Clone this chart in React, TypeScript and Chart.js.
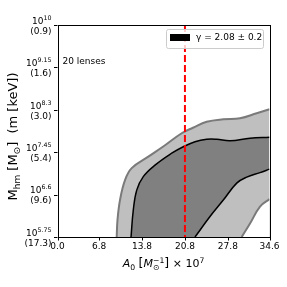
import React, { useEffect, useRef } from "react";
import { Chart, registerables } from "chart.js";

Chart.register(...registerables);

// ---- data ----
const X_MIN = 0;
const X_MAX = 34.6;
const Y_MIN = 5.75; // log10(M_hm)
const Y_MAX = 10;

const X_TICKS = [0, 6.8, 13.8, 20.8, 27.8, 34.6];
const X_TICK_LABELS = ["0.0", "6.8", "13.8", "20.8", "27.8", "34.6"];
const Y_TICKS = [5.75, 6.6, 7.45, 8.3, 9.15, 10];
const Y_EXP_LABELS = ["5.75", "6.6", "7.45", "8.3", "9.15", "10"];
const Y_MASS_LABELS = ["(17.3)", "(9.6)", "(5.4)", "(3.0)", "(1.6)", "(0.9)"];

const GAMMA_LABEL = "γ = 2.08 ± 0.2";
const LENS_LABEL = "20 lenses";
const TRUE_A0 = 20.8;

// 95% contour: upper/left boundary and lower/right boundary
const outerUpperX = [9.66, 9.79, 10.2, 11.02, 12.11, 14.82, 17.55, 20.27, 22.11, 24.35, 27.06, 29.79, 32.51, 34.6];
const outerUpperY = [5.75, 6.09, 6.49, 6.89, 7.13, 7.36, 7.59, 7.83, 7.94, 8.06, 8.11, 8.13, 8.23, 8.31];
const outerLowerX = [30.06, 31.42, 33.05, 34.6];
const outerLowerY = [5.75, 6.02, 6.36, 6.51];
// 68% contour
const innerUpperX = [12.0, 12.37, 12.93, 14.0, 15.91, 18.64, 20.37, 22.44, 24.35, 25.98, 28.15, 31.42, 34.6];
const innerUpperY = [5.75, 6.29, 6.69, 6.96, 7.19, 7.43, 7.55, 7.66, 7.71, 7.71, 7.68, 7.73, 7.75];
const innerLowerX = [22.44, 24.89, 27.06, 29.25, 30.88, 33.05, 34.6];
const innerLowerY = [5.75, 6.16, 6.49, 6.83, 6.95, 7.04, 7.11];

const FONT = '"DejaVu Sans"';

type Seg = { t?: string; size: number; italic?: boolean; dy?: number; sup?: string; sub?: string };

function fontOf(size: number, italic?: boolean) {
  return `${italic ? "italic " : ""}${size}px ${FONT}`;
}

function segWidth(ctx: CanvasRenderingContext2D, s: Seg) {
  ctx.font = fontOf(s.size, s.italic);
  if (s.t !== undefined) return ctx.measureText(s.t).width;
  const a = s.sup ? ctx.measureText(s.sup).width : 0;
  const b = s.sub ? ctx.measureText(s.sub).width : 0;
  return Math.max(a, b);
}

function drawRich(ctx: CanvasRenderingContext2D, segs: Seg[], x: number, y: number, align: "center" | "right" | "left") {
  const total = segs.reduce((w, s) => w + segWidth(ctx, s), 0);
  let cx = align === "center" ? x - total / 2 : align === "right" ? x - total : x;
  ctx.textAlign = "left";
  ctx.textBaseline = "alphabetic";
  for (const s of segs) {
    const w = segWidth(ctx, s);
    ctx.font = fontOf(s.size, s.italic);
    if (s.t !== undefined) {
      ctx.fillText(s.t, cx, y + (s.dy || 0));
    } else {
      if (s.sup) ctx.fillText(s.sup, cx, y - 4.5);
      if (s.sub) ctx.fillText(s.sub, cx, y + 3);
    }
    cx += w;
  }
}

const pts = (xs: number[], ys: number[]) => xs.map((x, i) => ({ x, y: ys[i] }));

const decorPlugin = {
  id: "decor",
  afterDatasetsDraw(chart: any) {
    const ctx: CanvasRenderingContext2D = chart.ctx;
    const xs = chart.scales.x;
    const ys = chart.scales.y;
    const { left, right, top, bottom } = chart.chartArea;
    ctx.save();
    ctx.fillStyle = "#000";
    ctx.strokeStyle = "#000";
    ctx.lineWidth = 1;
    // frame
    ctx.strokeRect(Math.round(left) + 0.5, Math.round(top) + 0.5, Math.round(right - left), Math.round(bottom - top));
    // ticks
    ctx.beginPath();
    X_TICKS.forEach((v) => {
      const px = Math.round(xs.getPixelForValue(v)) + 0.5;
      ctx.moveTo(px, bottom);
      ctx.lineTo(px, bottom + 3.5);
    });
    Y_TICKS.forEach((v) => {
      const py = Math.round(ys.getPixelForValue(v)) + 0.5;
      ctx.moveTo(left, py);
      ctx.lineTo(left - 3.5, py);
    });
    ctx.stroke();
    // x tick labels
    ctx.font = fontOf(9);
    ctx.textAlign = "center";
    ctx.textBaseline = "middle";
    X_TICKS.forEach((v, i) => {
      ctx.fillText(X_TICK_LABELS[i], xs.getPixelForValue(v), bottom + 10);
    });
    // y tick labels (two lines)
    Y_TICKS.forEach((v, i) => {
      const py = ys.getPixelForValue(v);
      drawRich(ctx, [{ t: "10", size: 9 }, { t: Y_EXP_LABELS[i], size: 6.3, dy: -4 }], left - 6, py - 1.2, "right");
      ctx.font = fontOf(9);
      ctx.textAlign = "right";
      ctx.textBaseline = "middle";
      ctx.fillText(Y_MASS_LABELS[i], left - 6, py + 6.5);
    });
    // x axis title
    drawRich(
      ctx,
      [
        { t: "A", size: 11, italic: true },
        { t: "0", size: 7.7, dy: 2.5 },
        { t: " ", size: 11 },
        { t: "[", size: 12.5 },
        { t: "M", size: 11, italic: true },
        { sup: "−1", sub: "⊙", size: 7.7 },
        { t: "]", size: 12.5 },
        { t: " × 10", size: 11 },
        { t: "7", size: 7.7, dy: -4.5 },
      ],
      (left + right) / 2,
      267,
      "center"
    );
    // y axis title
    ctx.save();
    ctx.translate(16.5, 136.5);
    ctx.rotate(-Math.PI / 2);
    drawRich(
      ctx,
      [
        { t: "M", size: 13 },
        { t: "hm", size: 9, dy: 3 },
        { t: " [M", size: 13 },
        { t: "⊙", size: 9, dy: 3 },
        { t: "]  (m [keV])", size: 13 },
      ],
      0,
      0,
      "center"
    );
    ctx.restore();
    // annotation
    ctx.font = fontOf(9);
    ctx.textAlign = "left";
    ctx.textBaseline = "middle";
    ctx.fillText(LENS_LABEL, left + 5, 62);
    // legend
    const lx = 166.5, ly = 29.5, lw = 97, lh = 19;
    ctx.beginPath();
    ctx.roundRect(lx, ly, lw, lh, 2);
    ctx.fillStyle = "rgba(255,255,255,0.8)";
    ctx.fill();
    ctx.strokeStyle = "#cccccc";
    ctx.lineWidth = 1;
    ctx.stroke();
    ctx.fillStyle = "#000";
    ctx.fillRect(170, 34, 20, 7);
    ctx.font = fontOf(9);
    ctx.textAlign = "left";
    ctx.textBaseline = "middle";
    ctx.fillText(GAMMA_LABEL, 196, 38);
    ctx.restore();
  },
};

export default function App() {
  const ref = useRef<HTMLCanvasElement>(null);
  useEffect(() => {
    document.body.style.margin = "0";
    const canvas = ref.current!;
    const common = { pointRadius: 0, tension: 0.4, clip: 0 };
    const chart = new Chart(canvas, {
      type: "line",
      data: {
        datasets: [
          {
            ...common,
            data: [{ x: TRUE_A0, y: Y_MAX }, { x: TRUE_A0, y: Y_MIN }],
            borderColor: "#ff0000",
            borderWidth: 2,
            borderDash: [7, 3],
            tension: 0,
            fill: false,
            order: 0,
          },
          {
            ...common,
            data: pts(outerLowerX, outerLowerY),
            borderColor: "#7a7a7a",
            borderWidth: 2,
            backgroundColor: "#ffffff",
            fill: "start",
            order: 1,
          },
          {
            ...common,
            data: pts(innerLowerX, innerLowerY),
            borderColor: "#000000",
            borderWidth: 1.5,
            backgroundColor: "#bfbfbf",
            fill: "start",
            order: 2,
          },
          {
            ...common,
            data: pts(innerUpperX, innerUpperY),
            borderColor: "#000000",
            borderWidth: 1.5,
            backgroundColor: "#808080",
            fill: "start",
            order: 3,
          },
          {
            ...common,
            data: pts(outerUpperX, outerUpperY),
            borderColor: "#7a7a7a",
            borderWidth: 2,
            backgroundColor: "#bfbfbf",
            fill: "start",
            order: 4,
          },
        ],
      },
      options: {
        responsive: false,
        animation: false,
        devicePixelRatio: 1,
        layout: { padding: { left: 57.5, right: 17.5, top: 25, bottom: 50 } },
        plugins: { legend: { display: false }, tooltip: { enabled: false } },
        scales: {
          x: { type: "linear", min: X_MIN, max: X_MAX, display: false },
          y: { type: "linear", min: Y_MIN, max: Y_MAX, display: false },
        },
      },
      plugins: [decorPlugin],
    } as any);
    return () => chart.destroy();
  }, []);
  return (
    <div style={{ position: "fixed", left: 0, top: 0, width: 287, height: 287, background: "#fff" }}>
      <canvas ref={ref} width={287} height={287} />
    </div>
  );
}
